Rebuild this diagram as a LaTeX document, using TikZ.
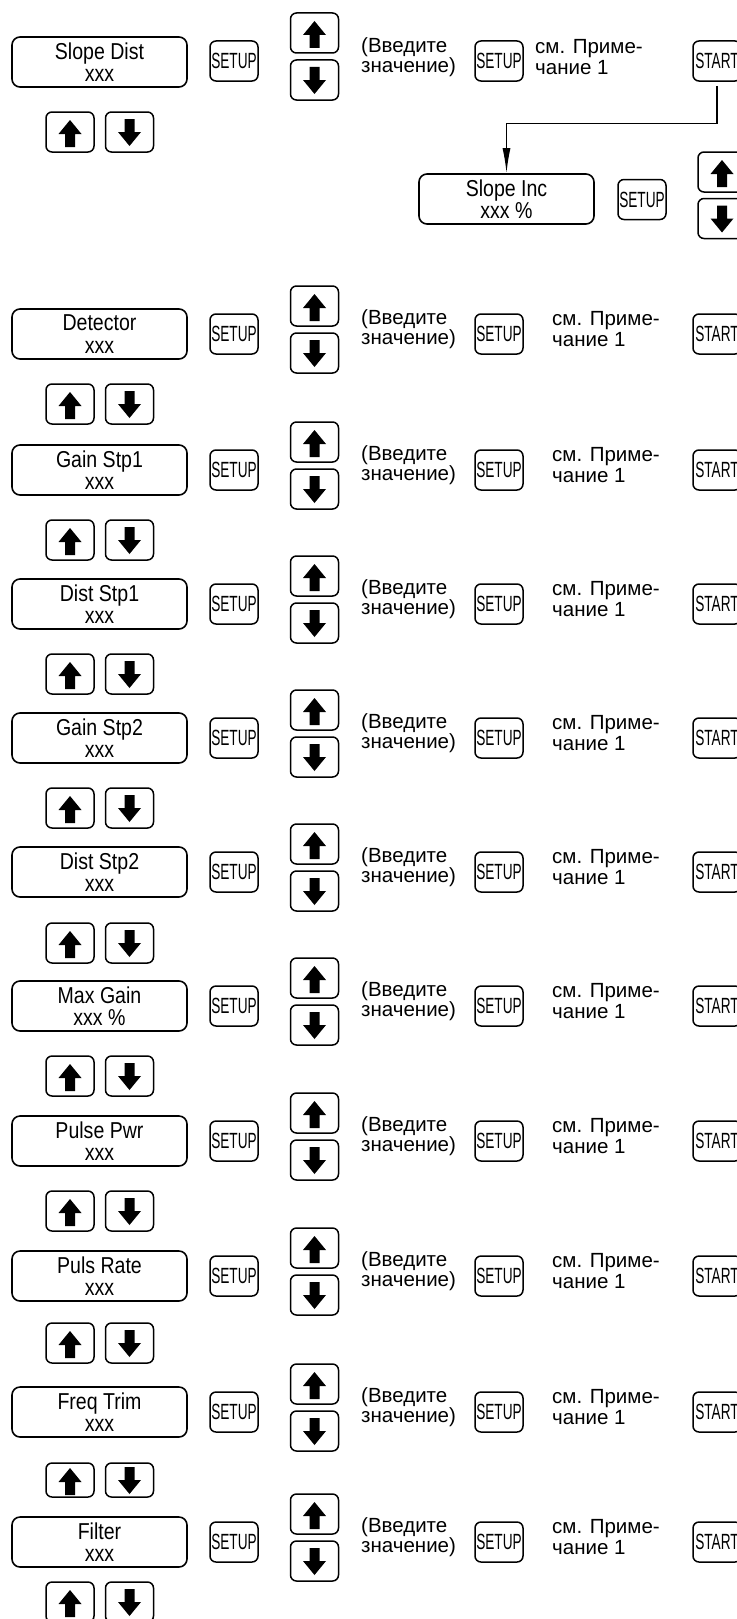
\documentclass[tikz,border=0pt]{standalone}
\usepackage{fontspec}
\setmainfont{Liberation Sans}
\newfontfamily\keyfont{Liberation Sans}[FakeStretch=0.62]
\newfontfamily\dispfont{Liberation Sans}[FakeStretch=0.85]
\usetikzlibrary{arrows.meta, positioning}
\tikzstyle{disp}=[rectangle, draw, rounded corners=8pt, line width=1.6pt, minimum width=175pt, minimum height=50pt, inner sep=0pt, align=center, font=\dispfont\fontsize{23}{22.5}\selectfont]
\tikzstyle{key}=[rectangle, draw, rounded corners=6pt, line width=1.5pt, minimum width=48pt, minimum height=40pt, inner sep=0pt, font=\keyfont\fontsize{22}{22}\selectfont]
\tikzstyle{upkey}=[key, path picture={\fill[sharp corners, shift={(path picture bounding box.center)}] (0pt,12pt) -- (11.5pt,-2pt) -- (5pt,-2pt) -- (5pt,-15pt) -- (-5pt,-15pt) -- (-5pt,-2pt) -- (-11.5pt,-2pt) -- cycle;}]
\tikzstyle{downkey}=[key, path picture={\fill[sharp corners, shift={(path picture bounding box.center)}] (0pt,-14pt) -- (11.5pt,0pt) -- (5pt,0pt) -- (5pt,13pt) -- (-5pt,13pt) -- (-5pt,0pt) -- (-11.5pt,0pt) -- cycle;}]
\tikzstyle{note}=[anchor=west, align=left, inner sep=0pt, font=\fontsize{20.5}{20.5}\selectfont]

\begin{document}
\begin{tikzpicture}[x=1pt, y=-1pt]
\useasboundingbox (0,0) rectangle (736,1619);

% Slope Dist
\node[disp] (d0) at (99.5,62) {Slope Dist\\xxx};
\node[key] (sa0) at (234,61) {SETUP};
\node[upkey] (up0) at (314.5,33) {};
\node[downkey] (dn0) at (314.5,80) {};
\node[note] (na0) at (361,57) {(Введите\\значение)};
\node[key] (sb0) at (499,61) {SETUP};
\node[note] (nb0) at (535,57) {см. Приме-\\чание 1};
\node[key] (st0) at (717,61) {START};
\node[upkey] (pu0) at (70,132) {};
\node[downkey] (pd0) at (129.5,132) {};

% Slope Inc
\node[disp] (inc) at (506.5,199) {Slope Inc\\xxx \%};
\node[key] (incset) at (642,199.5) {SETUP};
\node[upkey] (incup) at (722,172) {};
\node[downkey] (incdn) at (722,218.5) {};
\draw[line width=1.4pt, shorten <=4pt, -{Latex[length=25pt,width=8pt]}] (st0.south) -- ++(0,42) -| (inc.north);

% the other rows
\foreach \c/\name/\val/\p/\h [count=\i] in {334/Detector/xxx/404/40, 470/Gain Stp1/xxx/540/40, 604/Dist Stp1/xxx/674/40, 738/Gain Stp2/xxx/808/40, 872/Dist Stp2/xxx/943/40, 1006/Max Gain/xxx \%/1076/40, 1141/Pulse Pwr/xxx/1211/40, 1276/Puls Rate/xxx/1343/40, 1412/Freq Trim/xxx/1480/34, 1542/Filter/xxx/1602/40}
{
\node[disp] (d\i) at (99.5,\c) {\name\\\val};
\node[key] (sa\i) at (234,\c) {SETUP};
\node[upkey] (up\i) at (314.5,\c-28) {};
\node[downkey] (dn\i) at (314.5,\c+19) {};
\node[note] (na\i) at (361,\c-5) {(Введите\\значение)};
\node[key] (sb\i) at (499,\c) {SETUP};
\node[note] (nb\i) at (552,\c-5) {см. Приме-\\чание 1};
\node[key] (st\i) at (717,\c) {START};
\node[upkey, minimum height=\h pt] (pu\i) at (70,\p) {};
\node[downkey, minimum height=\h pt] (pd\i) at (129.5,\p) {};
}

\end{tikzpicture}
\end{document}
